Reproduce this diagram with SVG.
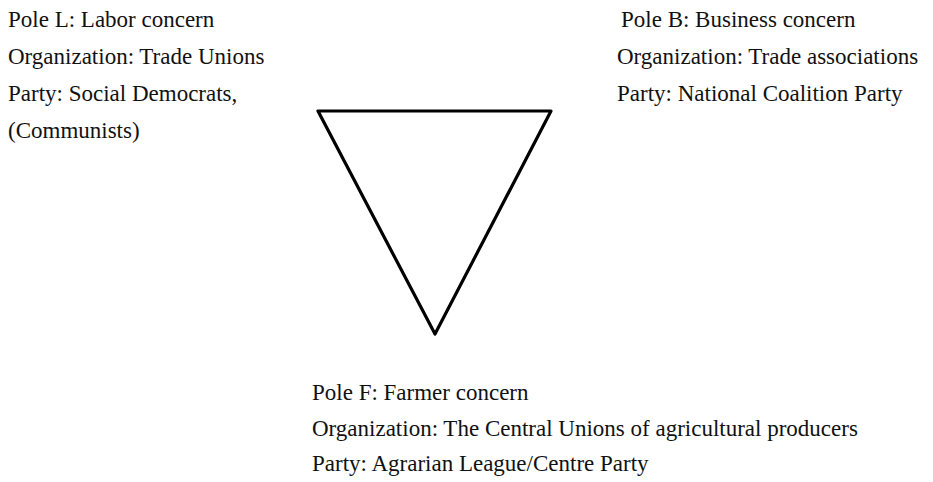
<svg xmlns="http://www.w3.org/2000/svg" width="933" height="482" viewBox="0 0 933 482">
<style>
text{font-family:"Liberation Serif","Times New Roman",serif;font-size:23px;fill:#111}
.tri{fill:none;stroke:#000;stroke-width:3.2;stroke-linejoin:round}
</style>
<rect width="933" height="482" fill="#fff"/>
<g id="connectors">
<polygon class="tri" points="318,111 551,111 435,334"/>
</g>
<g id="poleL">
<text x="8" y="27">Pole L: Labor concern</text>
<text x="8" y="64">Organization: Trade Unions</text>
<text x="8" y="101">Party: Social Democrats,</text>
<text x="8" y="138">(Communists)</text>
</g>
<g id="poleB">
<text x="621" y="27">Pole B: Business concern</text>
<text x="617" y="64">Organization: Trade associations</text>
<text x="617" y="101">Party: National Coalition Party</text>
</g>
<g id="poleF">
<text x="312" y="400">Pole F: Farmer concern</text>
<text x="312" y="435.5">Organization: The Central Unions of agricultural producers</text>
<text x="312" y="471">Party: Agrarian League/Centre Party</text>
</g>
</svg>
